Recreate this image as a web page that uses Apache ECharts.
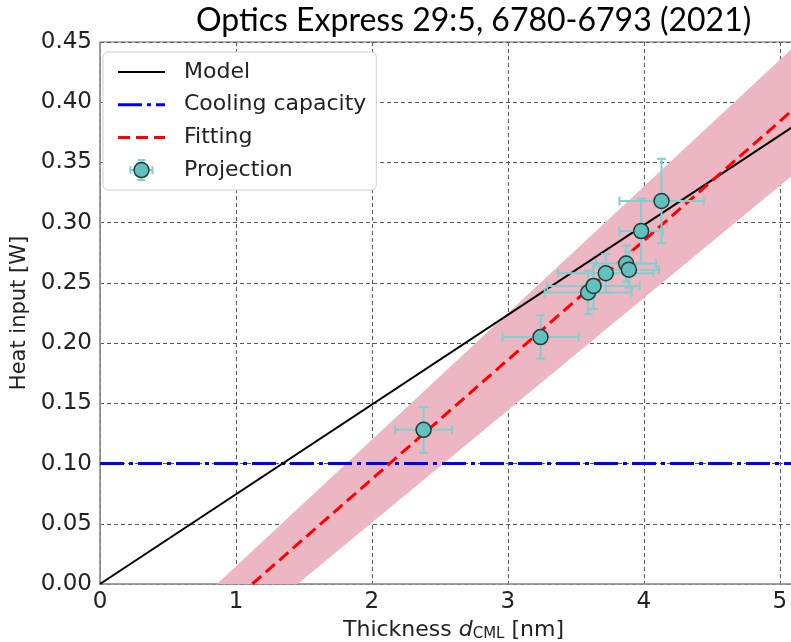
<!DOCTYPE html>
<html>
<head>
<meta charset="utf-8">
<script src="https://cdn.jsdelivr.net/npm/echarts@6/dist/echarts.min.js"></script>
<style>
  html, body { margin: 0; padding: 0; background: #fff; }
  #chart { width: 791px; height: 642px; }
</style>
</head>
<body>
<div id="chart"></div>
<script>
// Heat input vs. CML thickness: model, cooling limit, linear fit with band, projected points

// Projection points (thickness in nm, heat in W) with their error bars
const projX    = [2.38, 3.24, 3.59, 3.63, 3.72, 3.87, 3.89, 3.98, 4.13];
const projY    = [0.128, 0.205, 0.242, 0.2475, 0.258, 0.266, 0.261, 0.293, 0.318];
const projXErr = [0.21, 0.28, 0.32, 0.34, 0.35, 0.22, 0.22, 0.16, 0.31];
const projYErr = [0.019, 0.018, 0.018, 0.019, 0.016, 0.015, 0.015, 0.027, 0.035];

// Line end points [thickness, heat]
const modelLine   = [[0, 0], [5.2, 0.3874]];
const coolingLine = [[0, 0.10], [5.2, 0.10]];
const fittingLine = [[1.12, 0], [5.2, 0.4039]];

// Edges of the shaded fitting band
const bandUpper = [[0.86, 0], [5.2, 0.4561]];
const bandLower = [[1.453, 0], [5.2, 0.3492]];

// Axis ticks
const xTicks = [0, 1, 2, 3, 4, 5];
const yTicks = [0.00, 0.05, 0.10, 0.15, 0.20, 0.25, 0.30, 0.35, 0.40, 0.45];

const TEAL = '#62c1bd';
const TEAL_BAR = '#80d0cf';
const EDGE = '#1f3a3a';

const chart = echarts.init(document.getElementById('chart'), null, { renderer: 'canvas' });

const projData = projX.map((x, i) => [x, projY[i], projXErr[i], projYErr[i]]);

function renderBand(params, api) {
  const pts = bandUpper.map(p => api.coord(p))
    .concat(bandLower.slice().reverse().map(p => api.coord(p)));
  return {
    type: 'polygon',
    shape: { points: pts },
    style: { fill: '#ecb6c2' }
  };
}

function renderErrorBars(params, api) {
  const x = api.value(0), y = api.value(1), xe = api.value(2), ye = api.value(3);
  const l = api.coord([x - xe, y]);
  const r = api.coord([x + xe, y]);
  const t = api.coord([x, y + ye]);
  const b = api.coord([x, y - ye]);
  const cap = 4.5;
  const style = { stroke: TEAL_BAR, lineWidth: 2 };
  const seg = (x1, y1, x2, y2) => ({ type: 'line', shape: { x1, y1, x2, y2 }, style });
  return {
    type: 'group',
    children: [
      seg(l[0], l[1], r[0], r[1]),
      seg(l[0], l[1] - cap, l[0], l[1] + cap),
      seg(r[0], r[1] - cap, r[0], r[1] + cap),
      seg(t[0], t[1], b[0], b[1]),
      seg(t[0] - cap, t[1], t[0] + cap, t[1]),
      seg(b[0] - cap, b[1], b[0] + cap, b[1])
    ]
  };
}

// Legend layout (box at left/top, rows spaced by lineHeight + itemGap)
const LEG_LEFT = 103, LEG_TOP = 52, LEG_PAD = [8, 10, 8, 15];
const LEG_ROW_H = 24, LEG_GAP = 8.7, LEG_ICON_W = 47;
const iconX0 = LEG_LEFT + LEG_PAD[3];
const rowY = k => LEG_TOP + LEG_PAD[0] + LEG_ROW_H / 2 + k * (LEG_ROW_H + LEG_GAP);

// Legend keys drawn with the same strokes as the plotted series
function legendKeys() {
  const x1 = iconX0, x2 = iconX0 + LEG_ICON_W, cx = (x1 + x2) / 2;
  const line = (k, stroke, lineWidth, lineDash) => ({
    type: 'line', z: 100,
    shape: { x1, y1: rowY(k), x2, y2: rowY(k) },
    style: { stroke, lineWidth, lineDash: lineDash || null }
  });
  const cy = rowY(3);
  const s = { stroke: TEAL_BAR, lineWidth: 2 };
  const ln = (a, b, c, d) => ({ type: 'line', shape: { x1: a, y1: b, x2: c, y2: d }, style: s, z: 100 });
  return [
    line(0, '#000', 2),
    line(1, '#0000ff', 3, [24, 5, 4, 5]),
    line(2, '#ff0000', 3, [12, 6]),
    ln(cx - 11, cy, cx + 11, cy),
    ln(cx - 11, cy - 4, cx - 11, cy + 4),
    ln(cx + 11, cy - 4, cx + 11, cy + 4),
    ln(cx, cy - 10, cx, cy + 10),
    ln(cx - 4, cy - 10, cx + 4, cy - 10),
    ln(cx - 4, cy + 10, cx + 4, cy + 10),
    { type: 'circle', shape: { cx, cy, r: 7.5 },
      style: { fill: TEAL, stroke: EDGE, lineWidth: 1.5 }, z: 101 }
  ];
}

const gridLine = { show: true, lineStyle: { color: '#5a5a5a', type: [4, 3], width: 1 } };

const option = {
  animation: false,
  backgroundColor: '#fff',
  title: {
    text: 'Optics Express 29:5, 6780-6793 (2021)',
    left: 191,
    top: 0,
    textStyle: { fontFamily: 'Lato', fontWeight: 'normal', fontSize: 32, color: '#000' }
  },
  grid: {
    left: 100, top: 42, width: 707, bottom: 58,
    outerBoundsMode: 'none',
    containLabel: false,
    show: true, borderColor: '#999', borderWidth: 1.5, backgroundColor: '#fff'
  },
  legend: {
    orient: 'vertical',
    left: LEG_LEFT, top: LEG_TOP,
    padding: LEG_PAD,
    itemWidth: LEG_ICON_W, itemHeight: 14, itemGap: LEG_GAP,
    icon: 'rect',
    itemStyle: { opacity: 0 },
    lineStyle: { opacity: 0 },
    backgroundColor: '#fff',
    borderColor: '#d0d0d0', borderWidth: 1, borderRadius: 5,
    textStyle: { fontFamily: 'DejaVu Sans', fontSize: 22, color: '#222', lineHeight: LEG_ROW_H, padding: [0, 0, 0, 13] },
    data: ['Model', 'Cooling capacity', 'Fitting', 'Projection']
  },
  graphic: legendKeys(),
  xAxis: {
    type: 'value', min: 0, max: 5.2, interval: 1,
    name: '{n|Thickness }{i|d}{s|CML}{n| [nm]}',
    nameLocation: 'middle', nameGap: 35,
    nameTextStyle: {
      rich: {
        n: { fontFamily: 'DejaVu Sans', fontSize: 22, color: '#222' },
        i: { fontFamily: 'DejaVu Sans', fontStyle: 'italic', fontSize: 22, color: '#222' },
        s: { fontFamily: 'DejaVu Sans', fontSize: 15, color: '#222', verticalAlign: 'bottom', padding: [8, 0, 0, 0] }
      }
    },
    axisLine: { show: true, onZero: false, lineStyle: { color: '#999', width: 1.5 } },
    axisTick: { show: false },
    splitLine: gridLine,
    axisLabel: {
      margin: 7,
      fontFamily: 'DejaVu Sans', fontSize: 23, color: '#222',
      formatter: v => (xTicks.indexOf(v) >= 0 ? String(v) : '')
    }
  },
  yAxis: {
    type: 'value', min: 0, max: 0.45, interval: 0.05,
    name: 'Heat input [W]',
    nameLocation: 'middle', nameGap: 62, nameRotate: 90,
    nameTextStyle: { fontFamily: 'DejaVu Sans', fontSize: 21, color: '#222' },
    axisLine: { show: true, onZero: false, lineStyle: { color: '#999', width: 1.5 } },
    axisTick: { show: false },
    splitLine: gridLine,
    axisLabel: {
      margin: 8,
      fontFamily: 'DejaVu Sans', fontSize: 23, color: '#222',
      formatter: v => {
        const k = yTicks.findIndex(t => Math.abs(t - v) < 1e-9);
        return k >= 0 ? yTicks[k].toFixed(2) : '';
      }
    }
  },
  series: [
    {
      name: 'band', type: 'custom', data: [0], clip: true, z: 1,
      silent: true, renderItem: renderBand
    },
    {
      name: 'Cooling capacity', type: 'line', data: coolingLine, symbol: 'none', z: 2,
      lineStyle: { color: '#0000ff', width: 3, type: [24, 5, 4, 5] },
      itemStyle: { color: '#0000ff' }
    },
    {
      name: 'Model', type: 'line', data: modelLine, symbol: 'none', z: 3,
      lineStyle: { color: '#000', width: 2 },
      itemStyle: { color: '#000' }
    },
    {
      name: 'Fitting', type: 'line', data: fittingLine, symbol: 'none', z: 4,
      lineStyle: { color: '#ff0000', width: 3, type: [12, 6] },
      itemStyle: { color: '#ff0000' }
    },
    {
      name: 'errorbars', type: 'custom', data: projData, z: 5,
      encode: { x: 0, y: 1 }, renderItem: renderErrorBars, silent: true
    },
    {
      name: 'Projection', type: 'scatter', data: projData.map(d => [d[0], d[1]]), z: 6,
      symbol: 'circle', symbolSize: 15,
      itemStyle: { color: TEAL, borderColor: EDGE, borderWidth: 1.5, opacity: 1 }
    }
  ]
};

chart.setOption(option);
</script>
</body>
</html>
